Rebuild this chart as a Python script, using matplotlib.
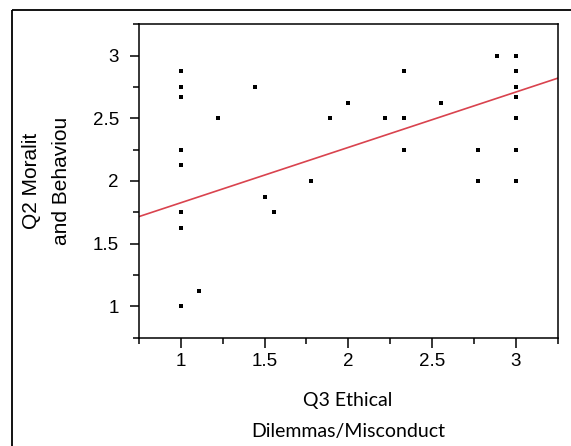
import numpy as np
import matplotlib
matplotlib.use("Agg")
import matplotlib.pyplot as plt
from matplotlib.ticker import MultipleLocator
from matplotlib.patches import Rectangle

plt.rcParams["font.family"] = ["Liberation Sans", "DejaVu Sans"]

# Data
x_vals = [1, 1, 1, 1, 1, 1, 1, 1,
          1.111, 1.222, 1.444, 1.5, 1.556, 1.778, 1.889, 2.0, 2.222,
          2.333, 2.333, 2.333, 2.556, 2.778, 2.778, 2.889,
          3, 3, 3, 3, 3, 3, 3]
y_vals = [2.875, 2.75, 2.667, 2.25, 2.125, 1.75, 1.625, 1.0,
          1.125, 2.5, 2.75, 1.875, 1.75, 2.0, 2.5, 2.625, 2.5,
          2.875, 2.5, 2.25, 2.625, 2.25, 2.0, 3.0,
          3.0, 2.875, 2.75, 2.667, 2.5, 2.25, 2.0]
# fitted line as shown in the reference
trend_intercept = 1.384
trend_slope = 0.4416
x_ticks = [1, 1.5, 2, 2.5, 3]
x_tick_labels = ["1", "1.5", "2", "2.5", "3"]
y_ticks = [1, 1.5, 2, 2.5, 3]
y_tick_labels = ["1", "1.5", "2", "2.5", "3"]
x_label = "Q3 Ethical\nDilemmas/Misconduct"
y_label = "Q2 Moralit\nand Behaviou"

W, H = 571, 446
fig = plt.figure(figsize=(W / 100, H / 100), dpi=100)

# outer frame (open at right/bottom edges)
fig.patches.append(Rectangle((12 / W, 1 - 10 / H), 2, -2, transform=fig.transFigure,
                             fill=False, edgecolor="black", linewidth=1.3))

ax = fig.add_axes([139 / W, 1 - 337.5 / H, (557.5 - 139) / W, (337.5 - 24.3) / H])

x = np.array(x_vals)
y = np.array(y_vals)
ax.plot(x, y, linestyle="none", marker="s", markersize=2.3, color="black",
        markeredgewidth=0)

xlim = (0.75, 3.25)
xl = np.array(xlim)
ax.plot(xl, trend_intercept + trend_slope * xl, color="#d9434e", linewidth=1.2)

ax.set_xlim(*xlim)
ax.set_ylim(0.75, 3.25)
ax.set_xticks(x_ticks)
ax.set_xticklabels(x_tick_labels)
ax.set_yticks(y_ticks)
ax.set_yticklabels(y_tick_labels)
ax.xaxis.set_minor_locator(MultipleLocator(0.25))
ax.yaxis.set_minor_locator(MultipleLocator(0.25))
ax.tick_params(which="both", width=1.1, direction="out", labelsize=13.5)
ax.tick_params(axis="x", which="major", length=7, pad=4.5)
ax.tick_params(axis="x", which="minor", length=4)
ax.tick_params(axis="y", which="major", length=6.5, pad=8)
ax.tick_params(axis="y", which="minor", length=4.5)
for s in ax.spines.values():
    s.set_linewidth(1.1)

fig.text(348 / W, 1 - 416 / H, x_label, ha="center", va="center",
         family="Lato", fontsize=14, linespacing=1.93)
fig.text(46.5 / W, 1 - 181 / H, y_label, ha="center", va="center", rotation=90,
         family="Liberation Sans", fontsize=15, linespacing=1.7)

fig.savefig("out.png", dpi=100)
